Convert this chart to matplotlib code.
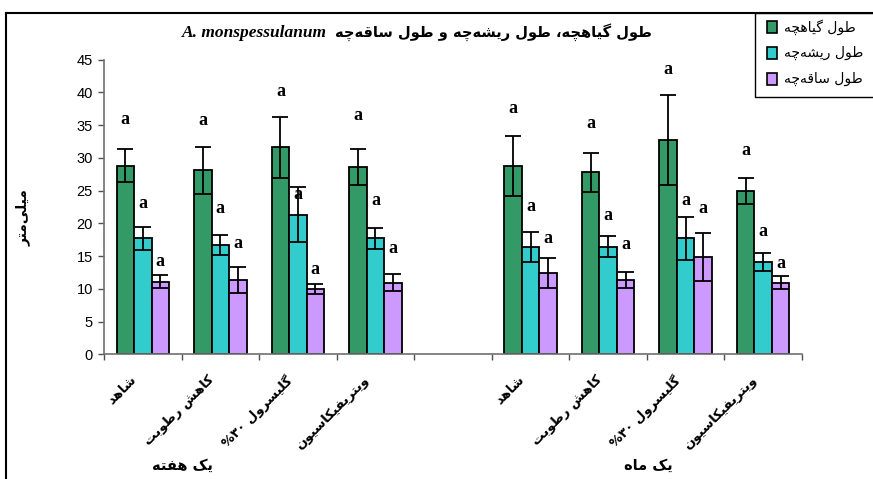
import matplotlib
matplotlib.use("Agg")
import matplotlib.pyplot as plt
import numpy as np
from matplotlib.patches import Rectangle
from matplotlib.lines import Line2D
from matplotlib.offsetbox import TextArea, HPacker, AnchoredOffsetbox

# ---------------- data ----------------
categories = ["شاهد", "کاهش رطوبت", "گلیسرول ۳۰%", "ویتریفیکاسیون"]
groups = ["یک هفته", "یک ماه"]
series_names = ["طول گیاهچه", "طول ریشه‌چه", "طول ساقه‌چه"]

# values: one week (4) then one month (4)
plantlet = [28.8, 28.1, 31.6, 28.6, 28.8, 27.8, 32.7, 25.0]
plantlet_err = [2.5, 3.6, 4.7, 2.8, 4.6, 3.0, 6.9, 2.0]
root = [17.7, 16.7, 21.3, 17.7, 16.4, 16.4, 17.7, 14.1]
root_err = [1.8, 1.5, 4.2, 1.6, 2.3, 1.6, 3.3, 1.3]
shoot = [11.1, 11.4, 10.0, 10.9, 12.4, 11.4, 14.9, 10.9]
shoot_err = [1.0, 2.0, 0.75, 1.3, 2.3, 1.2, 3.7, 1.0]

letter = "a"
letter_heights_plantlet = [35.8, 35.7, 40.1, 36.5, 37.5, 35.2, 43.5, 31.1]
letter_heights_root = [23.0, 22.3, 24.4, 23.5, 22.6, 21.2, 23.5, 18.7]
letter_heights_shoot = [14.2, 17.0, 13.0, 16.1, 17.7, 16.7, 22.2, 13.9]

title_fa = "طول گیاهچه، طول ریشه‌چه و طول ساقه‌چه"
title_la = "A. monspessulanum"
ylabel = "میلی‌متر"
yticks = [0, 5, 10, 15, 20, 25, 30, 35, 40, 45]

# ---------------- minimal Persian shaping ----------------
def _f(*c):
    return tuple(chr(x) if x else None for x in c)

FORMS = {
    'ا': _f(0xFE8D, 0xFE8E, 0, 0), 'آ': _f(0xFE81, 0xFE82, 0, 0),
    'ب': _f(0xFE8F, 0xFE90, 0xFE91, 0xFE92), 'ت': _f(0xFE95, 0xFE96, 0xFE97, 0xFE98),
    'ث': _f(0xFE99, 0xFE9A, 0xFE9B, 0xFE9C), 'ج': _f(0xFE9D, 0xFE9E, 0xFE9F, 0xFEA0),
    'ح': _f(0xFEA1, 0xFEA2, 0xFEA3, 0xFEA4), 'خ': _f(0xFEA5, 0xFEA6, 0xFEA7, 0xFEA8),
    'د': _f(0xFEA9, 0xFEAA, 0, 0), 'ذ': _f(0xFEAB, 0xFEAC, 0, 0),
    'ر': _f(0xFEAD, 0xFEAE, 0, 0), 'ز': _f(0xFEAF, 0xFEB0, 0, 0),
    'س': _f(0xFEB1, 0xFEB2, 0xFEB3, 0xFEB4), 'ش': _f(0xFEB5, 0xFEB6, 0xFEB7, 0xFEB8),
    'ص': _f(0xFEB9, 0xFEBA, 0xFEBB, 0xFEBC), 'ض': _f(0xFEBD, 0xFEBE, 0xFEBF, 0xFEC0),
    'ط': _f(0xFEC1, 0xFEC2, 0xFEC3, 0xFEC4), 'ظ': _f(0xFEC5, 0xFEC6, 0xFEC7, 0xFEC8),
    'ع': _f(0xFEC9, 0xFECA, 0xFECB, 0xFECC), 'غ': _f(0xFECD, 0xFECE, 0xFECF, 0xFED0),
    'ف': _f(0xFED1, 0xFED2, 0xFED3, 0xFED4), 'ق': _f(0xFED5, 0xFED6, 0xFED7, 0xFED8),
    'ل': _f(0xFEDD, 0xFEDE, 0xFEDF, 0xFEE0), 'م': _f(0xFEE1, 0xFEE2, 0xFEE3, 0xFEE4),
    'ن': _f(0xFEE5, 0xFEE6, 0xFEE7, 0xFEE8), 'ه': _f(0xFEE9, 0xFEEA, 0xFEEB, 0xFEEC),
    'و': _f(0xFEED, 0xFEEE, 0, 0), 'ي': _f(0xFEF1, 0xFEF2, 0xFEF3, 0xFEF4),
    'پ': _f(0xFB56, 0xFB57, 0xFB58, 0xFB59), 'چ': _f(0xFB7A, 0xFB7B, 0xFB7C, 0xFB7D),
    'ژ': _f(0xFB8A, 0xFB8B, 0, 0), 'ک': _f(0xFB8E, 0xFB8F, 0xFB90, 0xFB91),
    'گ': _f(0xFB92, 0xFB93, 0xFB94, 0xFB95), 'ی': _f(0xFBFC, 0xFBFD, 0xFBFE, 0xFBFF),
    'ـ': _f(0x0640, 0x0640, 0x0640, 0x0640),
}


def _dual(c):
    return c in FORMS and FORMS[c][2] is not None


def fa(s):
    chars = list(s)
    out = []
    for i, c in enumerate(chars):
        if c not in FORMS:
            if c != '\u200c':
                out.append(c)
            continue
        prev = chars[i - 1] if i > 0 else None
        nxt = chars[i + 1] if i + 1 < len(chars) else None
        jp = prev is not None and _dual(prev)
        jn = _dual(c) and nxt is not None and nxt in FORMS
        iso, fin, ini, med = FORMS[c]
        if jp and jn:
            out.append(med)
        elif jp:
            out.append(fin)
        elif jn:
            out.append(ini)
        else:
            out.append(iso)
    out = out[::-1]
    # keep digit runs left-to-right
    res, run = [], []
    for c in out:
        if c.isdigit():
            run.append(c)
        else:
            res.extend(run[::-1]); run = []
            res.append(c)
    res.extend(run[::-1])
    return "".join(res)

# ---------------- figure ----------------
W, H = 873, 479
fig = plt.figure(figsize=(W / 100, H / 100), dpi=100)
fig.patch.set_facecolor("white")


def fx(px):
    return px / W


def fy(py):
    return 1 - py / H


ax = fig.add_axes([fx(104), fy(354.3), fx(802) - fx(104), fy(59.7) - fy(354.3)])

colors = ["#339966", "#33CCCC", "#CC99FF"]
n_per_group = len(categories)
slots = np.array([g * (n_per_group + 1) + i for g in range(len(groups)) for i in range(n_per_group)])
centers = slots + 0.5
bw = 0.225

all_vals = [plantlet, root, shoot]
all_errs = [plantlet_err, root_err, shoot_err]
all_letters = [letter_heights_plantlet, letter_heights_root, letter_heights_shoot]

for k in range(3):
    xs = centers + (k - 1) * bw
    ax.bar(xs, all_vals[k], width=bw, color=colors[k], edgecolor="black", linewidth=1.3, zorder=2)
    ax.errorbar(xs, all_vals[k], yerr=all_errs[k], fmt="none", ecolor="black",
                elinewidth=1.3, capsize=5.5, capthick=1.3, zorder=3)
    for x, y in zip(xs, all_letters[k]):
        ax.text(x, y, letter, ha="center", va="center", fontsize=13, fontweight="bold",
                family="Liberation Serif", zorder=4)

ax.set_xlim(0, len(groups) * n_per_group + 1)
ax.set_ylim(0, 45)
ax.set_yticks(yticks)
ax.set_yticklabels([str(v) for v in yticks], family="Liberation Sans", fontsize=10.5)
ax.set_xticks(np.arange(0, len(groups) * n_per_group + 2))
ax.set_xticklabels([])
for s in ["top", "right"]:
    ax.spines[s].set_visible(False)
for s in ["left", "bottom"]:
    ax.spines[s].set_color("#707070")
    ax.spines[s].set_linewidth(1.2)
ax.tick_params(axis="both", direction="out", length=4, width=1.0, color="#505050", pad=4)

# category labels
for cx, lab in zip(centers, categories * len(groups)):
    ax.annotate(fa(lab), xy=(cx, 0), xycoords="data", xytext=(-13, -19), textcoords="offset pixels",
                ha="right", va="top", rotation=45, rotation_mode="anchor",
                fontsize=9.5, fontweight="bold", family="DejaVu Sans")

# group labels
group_px = [183, 648]
for gx, g in zip(group_px, groups):
    fig.text(fx(gx), fy(465), fa(g), ha="center", va="center", fontsize=10.5,
             fontweight="bold", family="DejaVu Sans")

# y label
fig.text(fx(23), fy(218), fa(ylabel), rotation=90, ha="center", va="center",
         fontsize=10, fontweight="bold", family="DejaVu Sans")

# title
ta_la = TextArea(title_la, textprops=dict(fontsize=12.5, fontweight="bold", style="italic",
                                          family="Liberation Serif"))
ta_fa = TextArea(fa(title_fa), textprops=dict(fontsize=10.5, fontweight="bold", family="DejaVu Sans"))
hp = HPacker(children=[ta_la, ta_fa], align="baseline", pad=0, sep=6)
ab = AnchoredOffsetbox(loc="center", child=hp, bbox_to_anchor=(fx(417), fy(32)),
                       bbox_transform=fig.transFigure, frameon=False, pad=0, borderpad=0)
fig.add_artist(ab)

# outer chart frame (left and top edges visible)
fig.add_artist(Line2D([fx(6), fx(6)], [fy(13), 0], transform=fig.transFigure, color="black", lw=1.5))
fig.add_artist(Line2D([fx(6), 1], [fy(13), fy(13)], transform=fig.transFigure, color="black", lw=1.5))

# legend box
fig.add_artist(Rectangle((fx(755), fy(97)), fx(900) - fx(755), fy(13) - fy(97),
                         transform=fig.transFigure, facecolor="white", edgecolor="black", lw=1.0))
leg_y = [27, 53, 79]
for k in range(3):
    fig.add_artist(Rectangle((fx(767), fy(leg_y[k] + 5.5)), fx(10), fy(0) - fy(11),
                             transform=fig.transFigure, facecolor=colors[k], edgecolor="black", lw=1.2))
    fig.text(fx(784), fy(leg_y[k]), fa(series_names[k]), ha="left", va="center",
             fontsize=10, family="DejaVu Sans")

fig.savefig("out.png", dpi=100, facecolor="white")
